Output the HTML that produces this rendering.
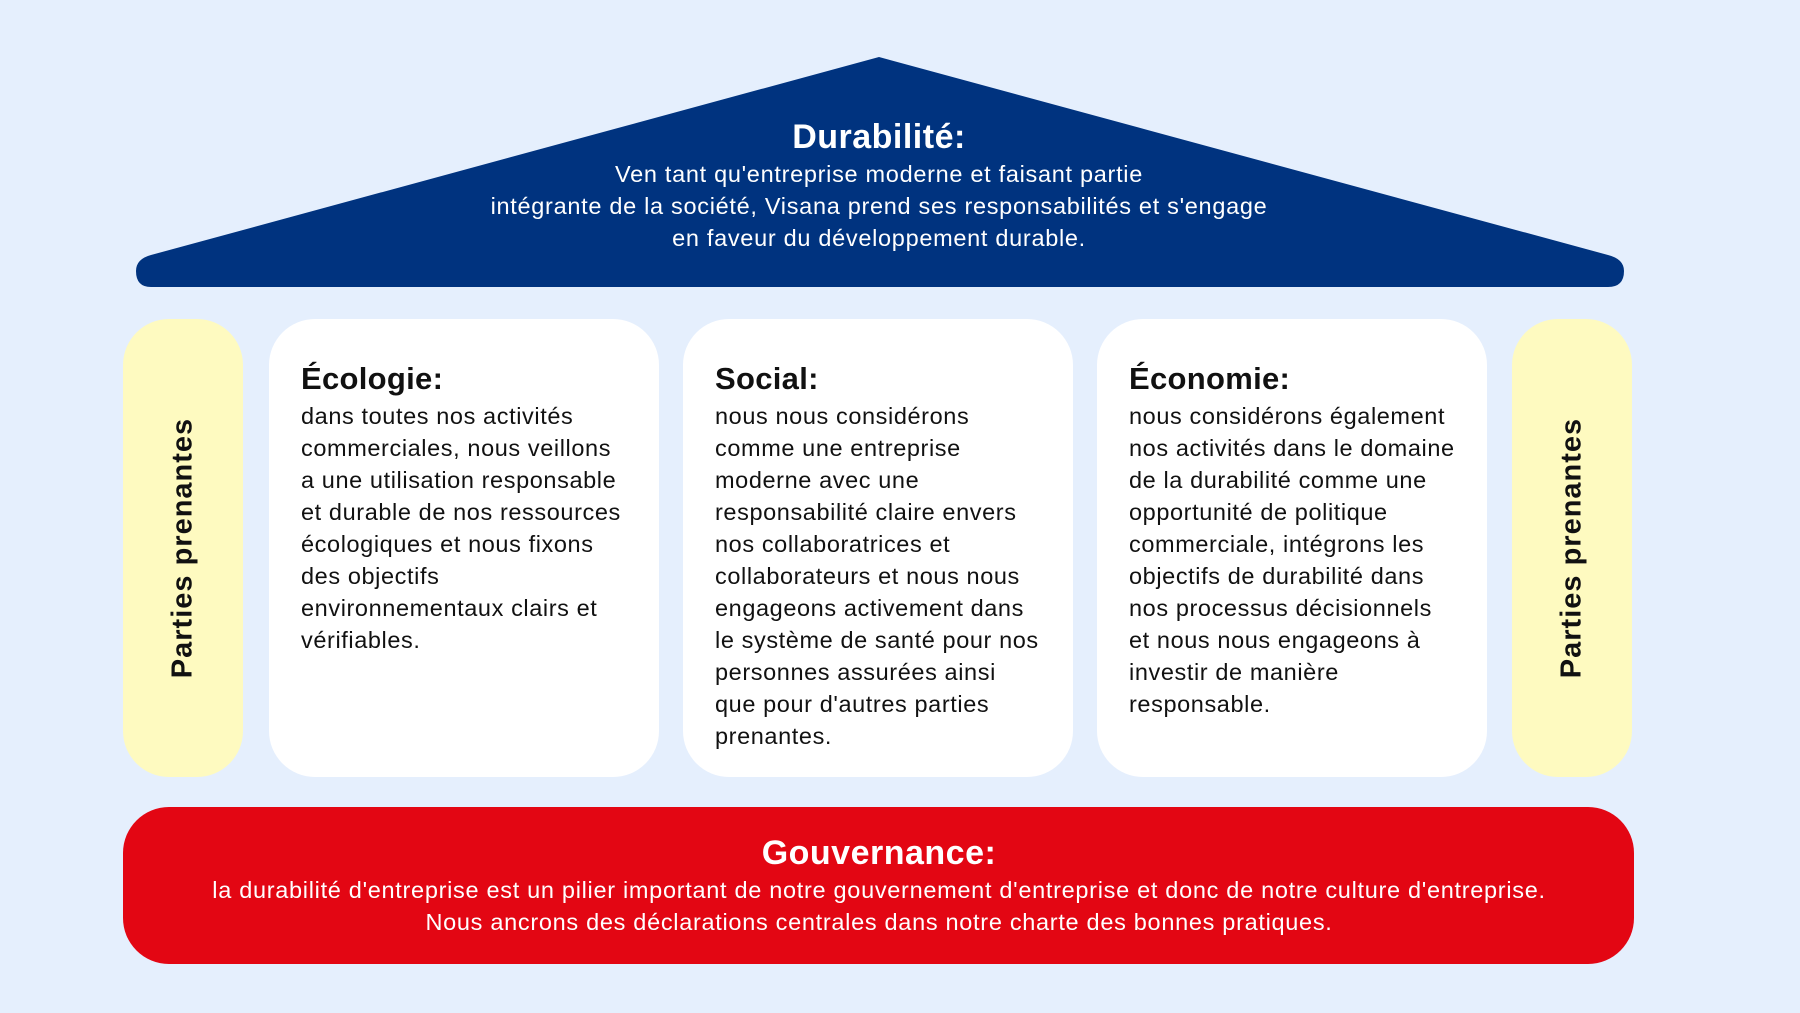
<!DOCTYPE html>
<html><head><meta charset="utf-8"><style>
body{margin:0;width:1800px;height:1013px;background:#e5effd;position:relative;overflow:hidden;font-family:"Liberation Sans",sans-serif}
.a{position:absolute}
.box{position:absolute;background:#fff;border-radius:46px;top:319px;height:458px;width:390px}
.box .t{position:absolute;left:32px;top:42px;font-size:31px;font-weight:bold;color:#111;letter-spacing:0.3px}
.box .b{position:absolute;left:32px;top:81px;width:326px;font-size:23.5px;line-height:32px;color:#111;letter-spacing:0.6px}
.y{position:absolute;background:#fefac0;border-radius:46px;top:319px;height:458px;width:120px}
.y span{position:absolute;left:50%;top:50%;transform:translate(-50%,-50%) rotate(-90deg);white-space:nowrap;font-size:29px;font-weight:bold;color:#111;letter-spacing:1px}
.c{position:absolute;left:0;width:1758px;text-align:center;color:#fff}
.s{font-size:23.5px;line-height:32px;letter-spacing:0.7px}
</style></head><body>
<svg class="a" style="left:0;top:0" width="1800" height="300">
<path d="M879 57 L1608 255 Q1624 259 1624 271 Q1624 287 1608 287 L151 287 Q136 287 136 271 Q136 259 151 255 Z" fill="#00337f"/>
</svg>
<div class="c" style="top:118px;font-size:34px;font-weight:bold;letter-spacing:0.5px">Durabilité:</div>
<div class="c s" style="top:158px">Ven tant qu'entreprise moderne et faisant partie<br>intégrante de la société, Visana prend ses responsabilités et s'engage<br>en faveur du développement durable.</div>
<div class="y" style="left:123px"><span>Parties prenantes</span></div>
<div class="y" style="left:1512px"><span>Parties prenantes</span></div>
<div class="box" style="left:269px"><div class="t">Écologie:</div><div class="b">dans toutes nos activités commerciales, nous veillons a une utilisation responsable et durable de nos ressources écologiques et nous fixons des objectifs environnementaux clairs et vérifiables.</div></div>
<div class="box" style="left:683px"><div class="t">Social:</div><div class="b">nous nous considérons comme une entreprise moderne avec une responsabilité claire envers nos collaboratrices et collaborateurs et nous nous engageons activement dans le système de santé pour nos personnes assurées ainsi que pour d'autres parties prenantes.</div></div>
<div class="box" style="left:1097px"><div class="t">Économie:</div><div class="b">nous considérons également nos activités dans le domaine de la durabilité comme une opportunité de politique commerciale, intégrons les objectifs de durabilité dans nos processus décisionnels et nous nous engageons à investir de manière responsable.</div></div>
<div class="a" style="left:123px;top:807px;width:1511px;height:157px;background:#e30613;border-radius:46px"></div>
<div class="c" style="top:834px;font-size:34px;font-weight:bold;letter-spacing:0.5px">Gouvernance:</div>
<div class="c s" style="top:874px">la durabilité d'entreprise est un pilier important de notre gouvernement d'entreprise et donc de notre culture d'entreprise.<br>Nous ancrons des déclarations centrales dans notre charte des bonnes pratiques.</div>
</body></html>
